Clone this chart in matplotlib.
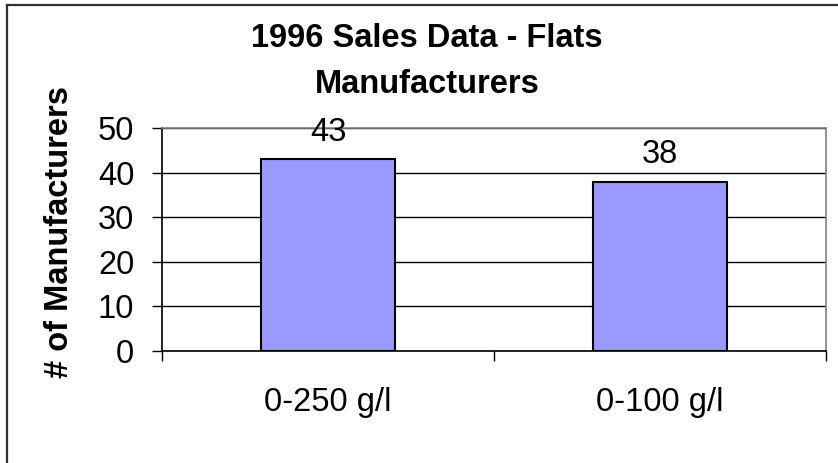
import matplotlib
matplotlib.use("Agg")
import matplotlib.pyplot as plt
from matplotlib.lines import Line2D

categories = ["0-250 g/l", "0-100 g/l"]
values = [43, 38]
yticks = [0, 10, 20, 30, 40, 50]
title_lines = ["1996 Sales Data - Flats", "Manufacturers"]
ylabel = "# of Manufacturers"

plt.rcParams['font.family'] = ['Liberation Sans', 'DejaVu Sans']

W, H = 838, 463
fig = plt.figure(figsize=(W / 100, H / 100), dpi=100)
ax = fig.add_axes([162 / W, 1 - 351 / H, (826 - 162) / W, (351 - 128) / H])

x = list(range(len(categories)))
bars = ax.bar(x, values, width=0.405, color="#9999FF", edgecolor="black", linewidth=1.5, zorder=3)

ax.set_xlim(-0.5, len(categories) - 0.5)
ax.set_ylim(0, 50)
ax.set_yticks(yticks)
ax.set_yticklabels([str(t) for t in yticks], fontsize=23.5)
ax.yaxis.grid(True, color="black", linewidth=1.0, zorder=0)
ax.set_axisbelow(True)

ax.set_xticks(x)
ax.set_xticklabels(categories, fontsize=23.5)
ax.set_xticks([i - 0.5 for i in range(len(categories) + 1)], minor=True)
ax.tick_params(axis="x", which="major", length=0, pad=26)
ax.tick_params(axis="x", which="minor", length=7.5, width=1.0, direction="out", color="black")
ax.tick_params(axis="y", which="major", length=7, width=1.0, direction="out", pad=13)

for side in ["top", "right"]:
    ax.spines[side].set_color("#808080")
    ax.spines[side].set_linewidth(1.2)
for side in ["left", "bottom"]:
    ax.spines[side].set_color("black")
    ax.spines[side].set_linewidth(1.2)

for xi, v in zip(x, values):
    ax.annotate(str(v), xy=(xi, v), xytext=(0, 13), textcoords="offset points",
                ha="center", va="baseline", fontsize=23.5)

fig.text(427 / W, 1 - 47 / H, title_lines[0], ha="center", va="baseline",
         fontsize=23.5, fontweight="bold")
fig.text(427 / W, 1 - 93 / H, title_lines[1], ha="center", va="baseline",
         fontsize=23.5, fontweight="bold")

fig.text(60 / W, 1 - 232 / H, ylabel, rotation=90, ha="center", va="center",
         fontsize=23.5, fontweight="bold")

# chart area frame (left and top edges visible)
fig.add_artist(Line2D([7 / W, 7 / W], [0, 1 - 5 / H], transform=fig.transFigure,
                      color="#303030", linewidth=1.6))
fig.add_artist(Line2D([7 / W, 1], [1 - 5 / H, 1 - 5 / H], transform=fig.transFigure,
                      color="#303030", linewidth=1.6))

fig.savefig("out.png", dpi=100, facecolor="white")
